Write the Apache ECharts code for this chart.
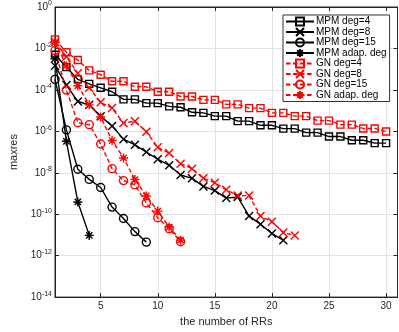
<!DOCTYPE html>
<html><head><meta charset="utf-8">
<script src="https://cdn.jsdelivr.net/npm/echarts@6/dist/echarts.min.js"></script>
<style>html,body{margin:0;padding:0;background:#fff}#c{width:399px;height:332px}</style>
</head><body><div id="c"></div><script>
const rrCounts = [1,2,3,4,5,6,7,8,9,10,11,12,13,14,15,16,17,18,19,20,21,22,23,24,25,26,27,28,29,30];
const xTicks = [5,10,15,20,25,30];
const seriesNames = ['MPM deg=4','MPM deg=8','MPM deg=15','MPM adap. deg','GN deg=4','GN deg=8','GN deg=15','GN adap. deg'];
const mpmDeg4 = [5.0e-3,1.26e-3,3.2e-4,1.95e-4,1.26e-4,8.1e-5,3.5e-5,3.5e-5,2.3e-5,2.3e-5,1.6e-5,1.45e-5,8.3e-6,7.8e-6,5.4e-6,5.4e-6,3.1e-6,3.1e-6,1.95e-6,1.95e-6,1.35e-6,1.35e-6,8.7e-7,8.7e-7,5.6e-7,5.6e-7,3.7e-7,3.7e-7,2.7e-7,2.7e-7];
const mpmDeg8 = [1.48e-3,1.7e-4,2.75e-5,1.9e-5,5.4e-6,1.82e-6,4.2e-7,2.24e-7,1.0e-7,4.5e-8,2.3e-8,7.8e-9,5.4e-9,2.2e-9,1.38e-9,6.0e-10,6.8e-10,8.1e-11,3.3e-11,1.17e-11,5.6e-12];
const mpmDeg15 = [3.2e-4,1.17e-6,1.48e-8,4.8e-9,1.95e-9,2.2e-10,6.2e-11,1.45e-11,4.5e-12];
const mpmAdap = [3.2e-3,3.3e-7,3.9e-10,9.5e-12];
const gnDeg4 = [2.75e-2,6.5e-3,2.75e-3,8.7e-4,5.4e-4,2.6e-4,2.6e-4,1.41e-4,1.41e-4,8.1e-5,8.1e-5,4.8e-5,4.8e-5,3.3e-5,3.3e-5,2.0e-5,2.0e-5,1.32e-5,1.32e-5,7.8e-6,7.8e-6,5.4e-6,5.4e-6,3.3e-6,3.3e-6,2.1e-6,2.1e-6,1.38e-6,1.38e-6,9.8e-7];
const gnDeg8 = [2.0e-2,4.0e-3,6.3e-4,1.26e-4,2.5e-5,1.32e-5,2.5e-6,3.1e-6,9.5e-7,1.7e-7,8.9e-8,2.75e-8,1.58e-8,5.4e-9,3.3e-9,1.5e-9,7.9e-10,7.9e-10,8.1e-11,4.3e-11,1.32e-11,9.3e-12];
const gnDeg15 = [7.9e-3,9.8e-5,2.6e-6,2.1e-6,2.45e-7,1.58e-8,4.2e-9,2.6e-9,3.5e-10,6.8e-11,2.0e-11,4.7e-12];
const gnAdap = [2.0e-2,1.48e-3,1.58e-4,1.9e-5,4.9e-6,3.6e-7,5.2e-8,4.7e-9,7.6e-10,1.41e-10,2.4e-11,5.6e-12];

const XSYM = 'path://M0,0L10,10M10,0L0,10';
const STAR = 'path://M5,0L5,10M0,5L10,5M1.5,1.5L8.5,8.5M8.5,1.5L1.5,8.5';
const RED = '#ff0000', BLK = '#000000';
function pairs(vals){ return vals.map((v,i)=>[rrCounts[i], v]); }
function mk(name, vals, color, dashed, symbol, size){
  return {
    name, type:'line', data: pairs(vals), symbol, symbolSize: size,
    lineStyle:{color, width:1.4, type: dashed ? [4.5,2.5] : 'solid'},
    itemStyle:{color:'none', borderColor: color, borderWidth:1.4},
    emphasis:{disabled:true}, animation:false
  };
}
const series = [
  mk(seriesNames[0], mpmDeg4, BLK, false, 'rect', 7),
  mk(seriesNames[1], mpmDeg8, BLK, false, XSYM, 8),
  mk(seriesNames[2], mpmDeg15, BLK, false, 'circle', 8),
  mk(seriesNames[3], mpmAdap, BLK, false, STAR, 9),
  mk(seriesNames[4], gnDeg4, RED, true, 'rect', 7),
  mk(seriesNames[5], gnDeg8, RED, true, XSYM, 8),
  mk(seriesNames[6], gnDeg15, RED, true, 'circle', 8),
  mk(seriesNames[7], gnAdap, RED, true, STAR, 9)
];
const FONT = 'Liberation Sans';
const axisCol = '#262626';
const chart = echarts.init(document.getElementById('c'), null, {renderer:'canvas'});
chart.setOption({
  animation:false,
  backgroundColor:'#fff',
  textStyle:{fontFamily:FONT},
  grid:{left:43, top:7, right:1.5, bottom:29.5, show:true, borderColor:axisCol, borderWidth:1, backgroundColor:'transparent'},
  legend:{
    data: seriesNames, orient:'vertical', left:283, top:15,
    padding:[0,3,0,2], itemWidth:28, itemHeight:10, itemGap:-2.5,
    backgroundColor:'#fff', borderColor:'#333', borderWidth:1,
    textStyle:{fontFamily:FONT, fontSize:10, color:'#000', lineHeight:10, padding:[0,0,0,-3]},
    selectedMode:false
  },
  xAxis:[{
    type:'value', min:1, max:31, position:'bottom',
    name:'the number of RRs', nameLocation:'middle', nameGap:14,
    nameTextStyle:{fontFamily:FONT, fontSize:11, color:axisCol},
    axisLine:{lineStyle:{color:axisCol}},
    axisTick:{inside:true, length:4, customValues:xTicks, lineStyle:{color:axisCol}},
    axisLabel:{customValues:xTicks, fontFamily:FONT, fontSize:10, color:axisCol, margin:4},
    splitLine:{show:true, lineStyle:{color:'#e3e3e3', width:1}}
  },{
    type:'value', min:1, max:31, position:'top',
    axisLine:{lineStyle:{color:axisCol}},
    axisTick:{inside:true, length:4, customValues:xTicks, lineStyle:{color:axisCol}},
    axisLabel:{show:false}, splitLine:{show:false}
  }],
  yAxis:[{
    type:'log', logBase:10, min:1e-14, max:1, interval:2,
    name:'maxres', nameLocation:'middle', nameGap:36, nameRotate:90,
    nameTextStyle:{fontFamily:FONT, fontSize:11, color:axisCol},
    axisLine:{show:true, lineStyle:{color:axisCol}},
    axisTick:{inside:true, length:4, lineStyle:{color:axisCol}},
    minorTick:{show:false},
    axisLabel:{
      margin:3, color:axisCol,
      formatter: v => '{b|10}{s|' + Math.round(Math.log10(v)) + '}',
      rich:{
        b:{fontFamily:FONT, fontSize:10, lineHeight:14, color:axisCol},
        s:{fontFamily:FONT, fontSize:7, lineHeight:8, verticalAlign:'top', color:axisCol}
      }
    },
    splitLine:{show:true, lineStyle:{color:'#e3e3e3', width:1}}
  },{
    type:'log', logBase:10, min:1e-14, max:1, interval:2, position:'right',
    axisLine:{show:true, lineStyle:{color:axisCol}},
    axisTick:{inside:true, length:4, lineStyle:{color:axisCol}},
    axisLabel:{show:false}, splitLine:{show:false}
  }],
  series
});
</script></body></html>
